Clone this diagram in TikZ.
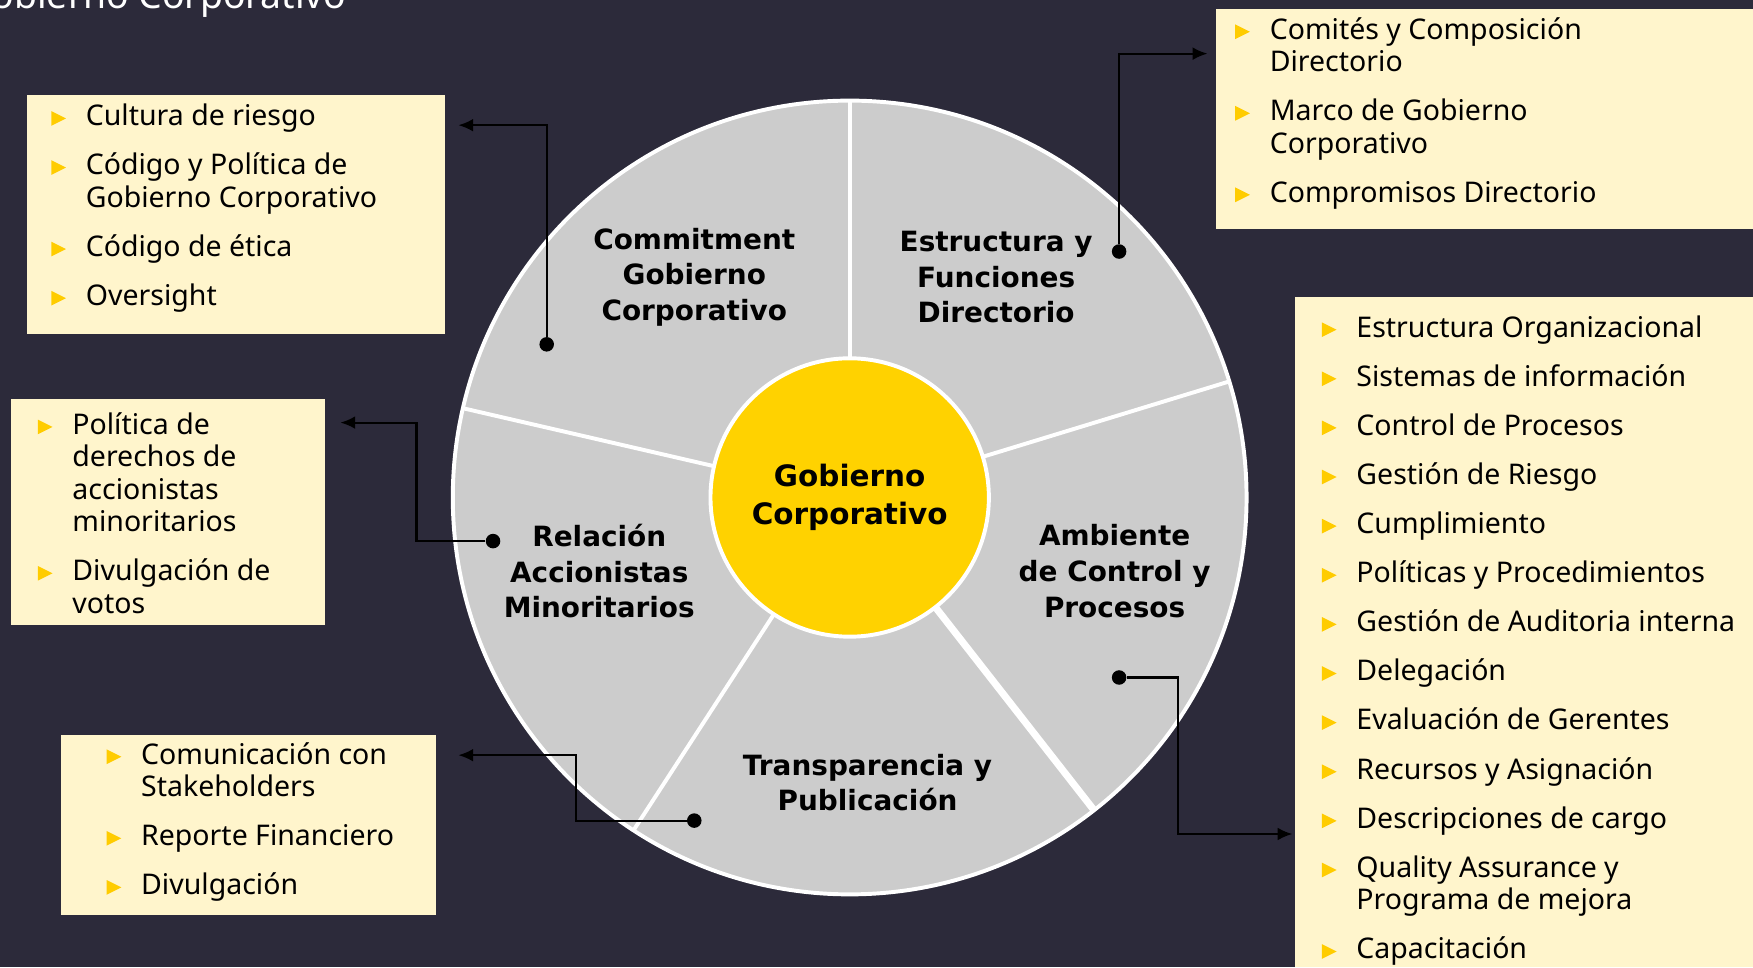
\documentclass[tikz,border=0pt]{standalone}
\usepackage{fontspec}
\setmainfont{Noto Sans}
\newfontfamily\heavyfont{DejaVu Sans}
\usepackage{tikz}
\usetikzlibrary{calc}
\usetikzlibrary{arrows.meta}
\definecolor{bgnavy}{HTML}{2C2A3A}
\definecolor{boxcream}{HTML}{FFF5CC}
\definecolor{wheelgray}{HTML}{CCCCCC}
\definecolor{coregold}{HTML}{FFD200}
\definecolor{bulletgold}{HTML}{FFCC00}
\newcommand{\listsize}{\fontsize{14.5}{16.5}\selectfont}
\newcommand{\tri}{\tikz[baseline=0pt]\fill[bulletgold] (0,0) -- (0,7.5pt) -- (7.5pt,3.75pt) -- cycle;}
\newcommand{\gap}{\\[8.5pt]}
\tikzset{>={Latex[length=7.5pt,width=6.5pt]}}
\tikzset{
  infobox/.style={rectangle, fill=boxcream, inner sep=0pt, outer sep=0pt, anchor=south west},
  itemlist/.style={inner sep=0pt, anchor=base west, font=\listsize},
  seglabel/.style={align=center, font=\heavyfont\bfseries\fontsize{14.2}{18.2}\selectfont},
  divider/.style={draw=white, line width=2pt},
  leader/.style={->, draw=black, line width=1.1pt},
  enddot/.style={circle, fill=black, inner sep=0pt, minimum size=0.26cm}
}

\begin{document}
\begin{tikzpicture}
            \useasboundingbox (0,0) rectangle (31.36,17.3);
            \fill[bgnavy] (0,0) rectangle (31.36,17.3);
            \clip (0,0) rectangle (31.36,17.3);

            \node[anchor=base east, text=white, inner sep=0pt, font=\fontsize{19}{22}\selectfont] (title) at (6.2,17.14) {Gobierno Corporativo};

            \node[infobox, minimum width=7.48cm, minimum height=4.28cm] (bc) at (0.48,11.32) {};
            \node[infobox, minimum width=5.62cm, minimum height=4.04cm] (br) at (0.2,6.12) {};
            \node[infobox, minimum width=6.7cm, minimum height=3.22cm] (bt) at (1.1,0.94) {};
            \node[infobox, minimum width=9.6cm, minimum height=3.94cm] (be) at (21.76,13.2) {};
            \node[infobox, minimum width=8.2cm, minimum height=11.98cm] (ba) at (23.16,0) {};

            \node[itemlist] (lc) at (0.91,15.05) {\begin{tabular}[t]{@{}l@{\hspace{10.1pt}}l@{}}
                \tri & Cultura de riesgo\gap
                \tri & Código y Política de\\
                     & Gobierno Corporativo\gap
                \tri & Código de ética\gap
                \tri & Oversight
            \end{tabular}};
            \node[itemlist] (lr) at (0.67,9.53) {\begin{tabular}[t]{@{}l@{\hspace{10.1pt}}l@{}}
                \tri & Política de\\
                     & derechos de\\
                     & accionistas\\
                     & minoritarios\gap
                \tri & Divulgación de\\
                     & votos
            \end{tabular}};
            \node[itemlist] (lt) at (1.9,3.63) {\begin{tabular}[t]{@{}l@{\hspace{10.1pt}}l@{}}
                \tri & Comunicación con\\
                     & Stakeholders\gap
                \tri & Reporte Financiero\gap
                \tri & Divulgación
            \end{tabular}};
            \node[itemlist] (le) at (22.09,16.6) {\begin{tabular}[t]{@{}l@{\hspace{10.1pt}}l@{}}
                \tri & Comités y Composición\\
                     & Directorio\gap
                \tri & Marco de Gobierno\\
                     & Corporativo\gap
                \tri & Compromisos Directorio
            \end{tabular}};
            \node[itemlist] (la) at (23.64,11.27) {\begin{tabular}[t]{@{}l@{\hspace{10.1pt}}l@{}}
                \tri & Estructura Organizacional\gap
                \tri & Sistemas de información\gap
                \tri & Control de Procesos\gap
                \tri & Gestión de Riesgo\gap
                \tri & Cumplimiento\gap
                \tri & Políticas y Procedimientos\gap
                \tri & Gestión de Auditoria interna\gap
                \tri & Delegación\gap
                \tri & Evaluación de Gerentes\gap
                \tri & Recursos y Asignación\gap
                \tri & Descripciones de cargo\gap
                \tri & Quality Assurance y\\
                     & Programa de mejora\gap
                \tri & Capacitación
            \end{tabular}};

            \node[circle, fill=wheelgray, draw=white, line width=2pt, minimum size=14.2cm, inner sep=0pt, outer sep=0pt] (wheel) at (15.2,8.4) {};
            \foreach \a in {90,17,-123,167}
                \draw[divider] (wheel.center) -- (wheel.\a);
            \draw[divider, line width=3.6pt] (wheel.center) -- (wheel.-52);
            \node[circle, fill=coregold, draw=white, line width=2pt, minimum size=4.98cm, inner sep=0pt, align=center, font=\heavyfont\bfseries\fontsize{15}{19.3}\selectfont] (core) at (15.2,8.4) {Gobierno\\Corporativo};

            \node[seglabel] (commit) at (12.42,12.34) {Commitment\\Gobierno\\Corporativo};
            \node[seglabel] (board) at (17.82,12.34) {Estructura y\\Funciones\\Directorio};
            \node[seglabel] (holders) at (10.72,7.08) {Relación\\Accionistas\\Minoritarios};
            \node[seglabel] (control) at (19.94,7.08) {Ambiente\\de Control y\\Procesos};
            \node[seglabel] (disclose) at (15.52,3.3) {Transparencia y\\Publicación};

            \node[enddot] (dc) at (9.78,11.14) {};
            \node[enddot] (dr) at (8.82,7.62) {};
            \node[enddot] (dt) at (12.42,2.62) {};
            \node[enddot] (de) at (20.02,12.8) {};
            \node[enddot] (da) at (20.02,5.18) {};

            \coordinate (tc) at (8.2,15.06);
            \coordinate (kr) at (7.45,9.74);
            \coordinate (tr) at (6.09,9.74);
            \coordinate (kt) at (10.3,3.79);
            \coordinate (tt) at (8.2,3.79);
            \coordinate (te) at (21.6,16.34);
            \coordinate (ka) at (21.08,2.38);
            \coordinate (ta) at (23.12,2.38);

            \draw[leader] (dc) |- (tc);
            \draw[leader] (dr) -| (kr) -- (tr);
            \draw[leader] (dt) -| (kt) -- (tt);
            \draw[leader] (de) |- (te);
            \draw[leader] (da) -| (ka) -- (ta);
\end{tikzpicture}
\end{document}
